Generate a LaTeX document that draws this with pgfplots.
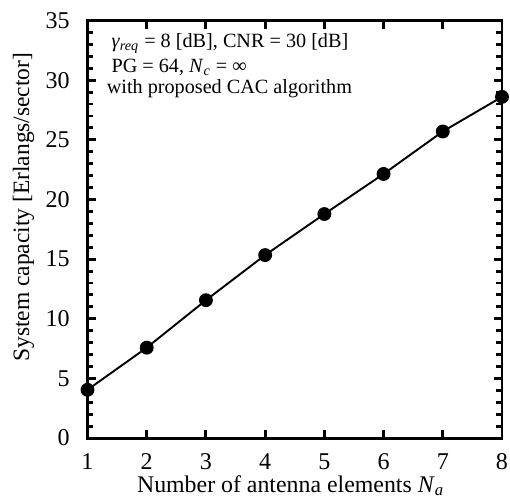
\documentclass[border=0pt]{standalone}
\usepackage{fontspec}
\setmainfont{Liberation Serif}
\usepackage{pgfplots}
\pgfplotsset{compat=1.18}
\begin{document}
\begin{tikzpicture}
\begin{axis}[
  scale only axis,
  width=215.5pt, height=217.1pt,
  xmin=1, xmax=8, ymin=0, ymax=35,
  xtick={1,2,...,8},
  ytick={0,5,...,35},
  minor y tick num=4,
  tick align=inside,
  axis line style={line width=1.5pt},
  every tick/.style={black, line width=1.5pt},
  major tick length=4.2pt,
  minor tick length=2.9pt,
  /pgf/number format/assume math mode=true,
  tick label style={font=\fontsize{12.5}{15}\selectfont},
  xticklabel style={inner sep=1pt, yshift=-6.9pt},
  yticklabel style={xshift=-5.8pt},
  xlabel={Number of antenna elements \textit{N}\textsubscript{\textit{a}}},
  ylabel={System capacity [Erlangs/sector]},
  xlabel style={font=\fontsize{12.4}{15}\selectfont, inner sep=1pt, at={(axis description cs:0.49,-0.1295)}, anchor=base},
  ylabel style={font=\fontsize{12.2}{14.6}\selectfont, at={(axis description cs:-0.141,0.553)}, anchor=base},
  clip=false,
]
\addplot[black, line width=1pt, mark=*, mark size=3.1pt] coordinates {
  (1,4.05) (2,7.58) (3,11.56) (4,15.34) (5,18.78) (6,22.14) (7,25.7) (8,28.6)
};
\node[anchor=base west, inner sep=0pt, font=\fontsize{10.5}{12.6}\selectfont] at (axis cs:1.40,32.77) {\textit{γ}\textsubscript{\textit{req}} = 8 [dB], CNR = 30 [dB]};
\node[anchor=base west, inner sep=0pt, font=\fontsize{10.5}{12.6}\selectfont] at (axis cs:1.40,30.67) {PG = 64, \textit{N}\textsubscript{\textit{c}} = ∞};
\node[anchor=base west, inner sep=0pt, font=\fontsize{10.5}{12.6}\selectfont] at (axis cs:1.32,28.85) {with proposed CAC algorithm};
\coordinate (bbsw) at (rel axis cs:-0.2111,-0.1435);
\coordinate (bbne) at (rel axis cs:1.0193,1.0491);
\end{axis}
\pgfresetboundingbox
\path[use as bounding box] (bbsw) rectangle (bbne);
\end{tikzpicture}
\end{document}
